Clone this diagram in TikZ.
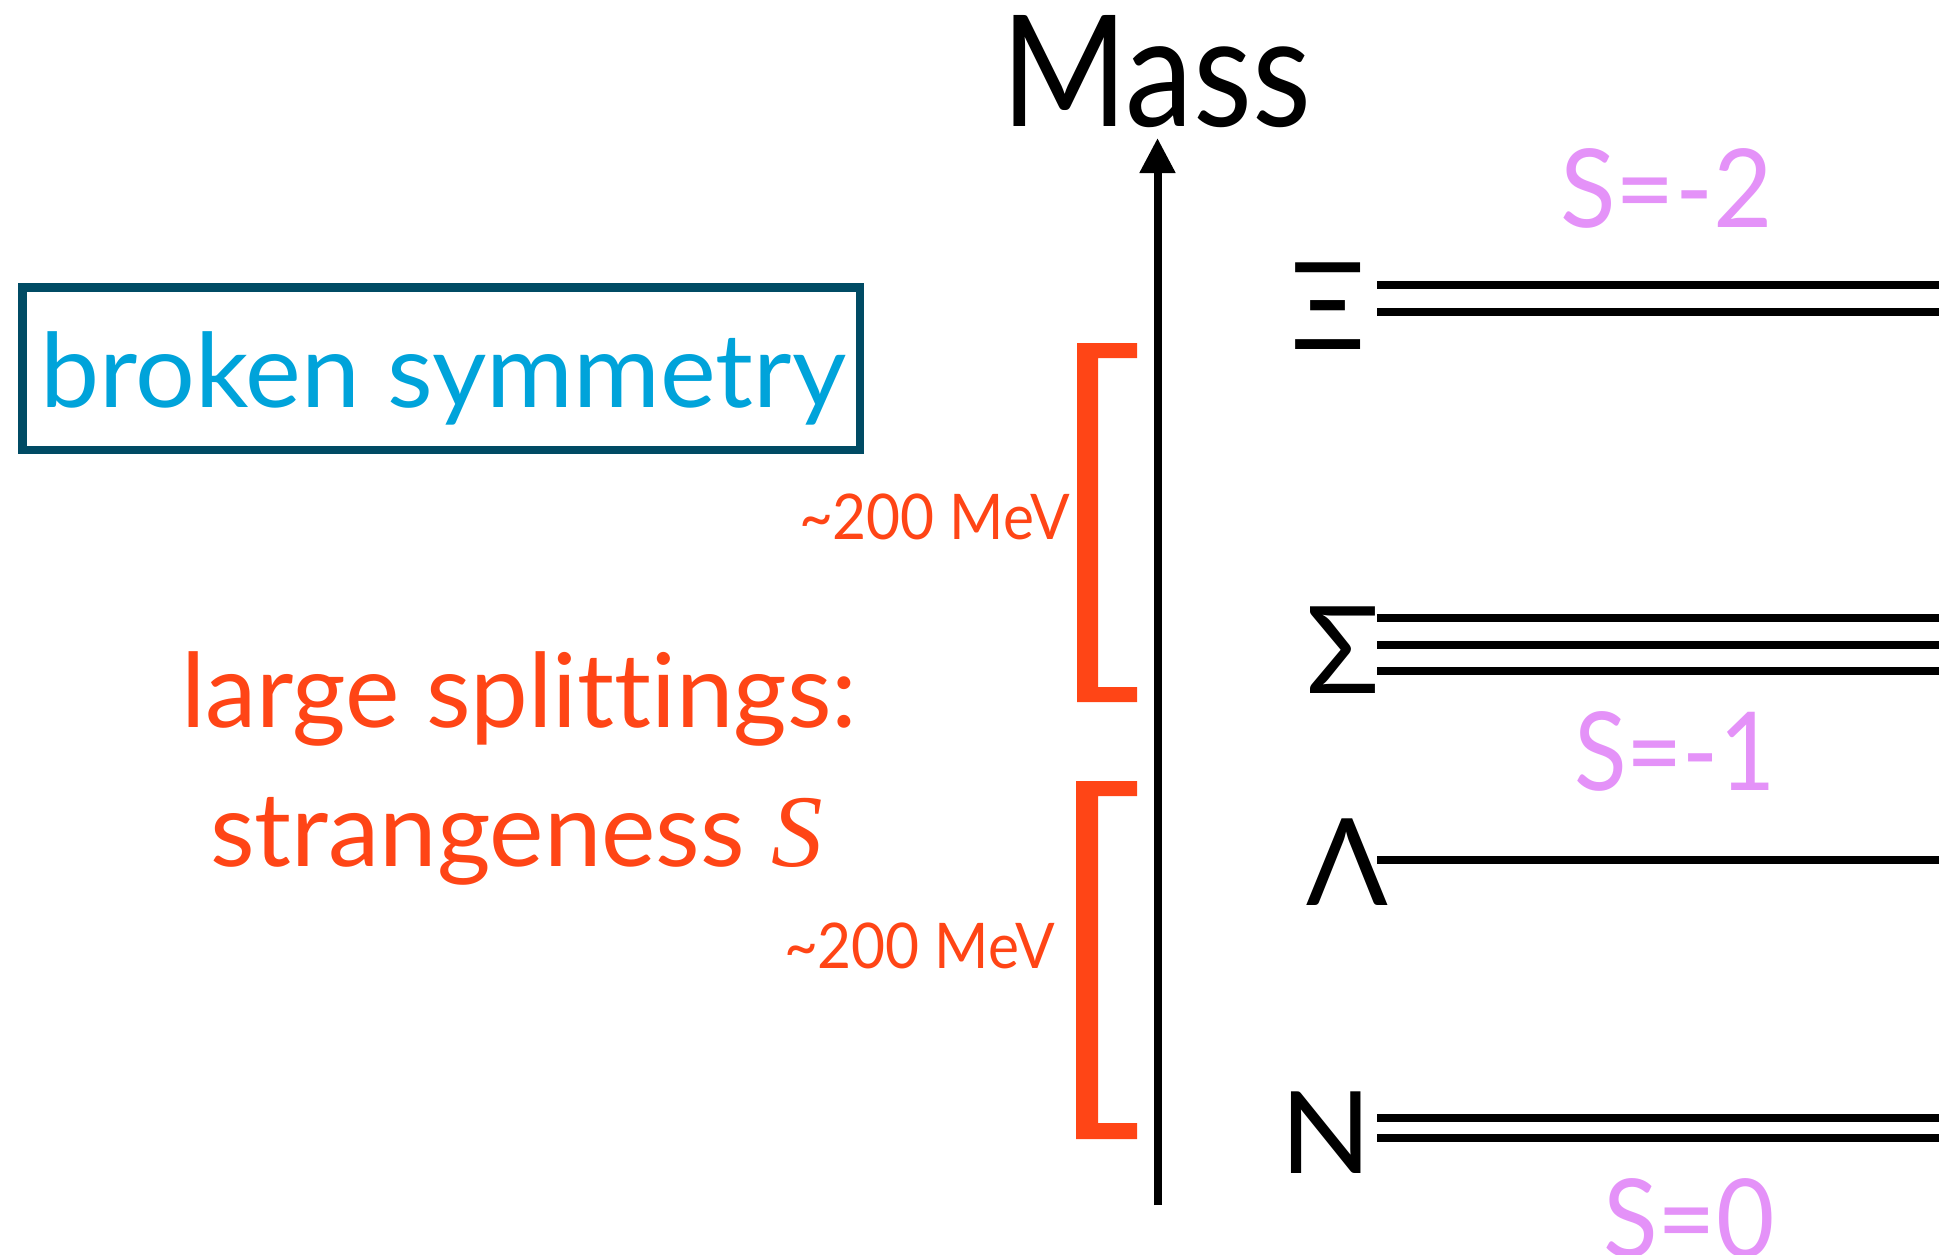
\documentclass[tikz,border=0pt]{standalone}
\usepackage{fontspec}
\usepackage{graphicx}
\setmainfont{Lato}[Ligatures=NoCommon]
\newfontfamily\serifit{Liberation Serif}
\usetikzlibrary{arrows.meta}
\definecolor{redorange}{RGB}{255,69,22}
\definecolor{skyblue}{RGB}{0,163,218}
\definecolor{boxteal}{RGB}{0,75,100}
\definecolor{pinkish}{RGB}{228,146,248}
\tikzset{
  txt/.style={inner sep=0pt, outer sep=0pt, anchor=base west},
  level/.style={line width=8pt, black},
  brk/.style={fill=redorange, draw=none},
  slabel/.style={txt, text=pinkish, font=\fontsize{109}{120}\selectfont},
  particle/.style={txt, text=black, font=\fontsize{121}{130}\selectfont},
  mev/.style={txt, text=redorange, font=\fontsize{63}{70}\selectfont},
  big/.style={txt, text=redorange, font=\fontsize{103}{110}\selectfont},
}
\begin{document}
\begin{tikzpicture}[x=1pt,y=-1pt]
\useasboundingbox (0,0) rectangle (1939,1254);
% axis
\coordinate (axbot) at (1157.5,1205);
\coordinate (axtop) at (1157.5,138);
\draw[line width=8pt, -{Triangle[length=35pt,width=34pt]}] (axbot) -- (axtop);
\node[txt, font=\fontsize{155}{160}\selectfont] (mass) at (1001,126) {\scalebox{0.88}[1]{Mass}};
% box
\node[draw=boxteal, line width=8.5pt, minimum width=837.5pt, minimum height=162.5pt, inner sep=0pt] (box) at (441.25,368.75) {};
\node[txt, text=skyblue, font=\fontsize{103}{110}\selectfont] (broken) at (40,407) {\scalebox{1.025}[1]{broken symmetry}};
% left texts
\node[big] (large) at (181,727) {large splittings:};
\node[big] (strange) at (210,866) {strangeness {\serifit\itshape S}};
\node[mev] (mev1) at (799,539) {\scalebox{0.93}[1]{\textasciitilde 200 MeV}};
\node[mev] (mev2) at (784,968) {\scalebox{0.93}[1]{\textasciitilde 200 MeV}};
% brackets
\fill[brk] (1137,343) -- (1077,343) -- (1077,702) -- (1137,702) -- (1137,687) -- (1098,687) -- (1098,358) -- (1137,358) -- cycle;
\fill[brk] (1137,781) -- (1076,781) -- (1076,1139) -- (1137,1139) -- (1137,1123) -- (1098,1123) -- (1098,796) -- (1137,796) -- cycle;
% particles
\node[particle] (xi) at (1290,349) {Ξ};
\node[particle] (sigma) at (1306,693) {Σ};
\node[particle] (lambda) at (1306,905) {Λ};
\node[particle, font=\fontsize{114}{120}\selectfont] (nuc) at (1280,1173) {\scalebox{1.05}[1]{N}};
% strangeness labels
\node[slabel] (s2) at (1560,227) {\scalebox{0.94}[1]{S=-2}};
\node[slabel] (s1) at (1574,790) {\scalebox{0.89}[1]{S=-1}};
\node[slabel] (s0) at (1603,1257) {\scalebox{0.925}[1]{S=0}};
% levels
\foreach \n/\y in {xa/285, xb/311.5, sa/618, sb/645, sc/671, la/860, na/1117.5, nb/1137.5}{
  \coordinate (\n L) at (1377,\y);
  \coordinate (\n R) at (1945,\y);
  \draw[level] (\n L) -- (\n R);
}
\end{tikzpicture}
\end{document}
